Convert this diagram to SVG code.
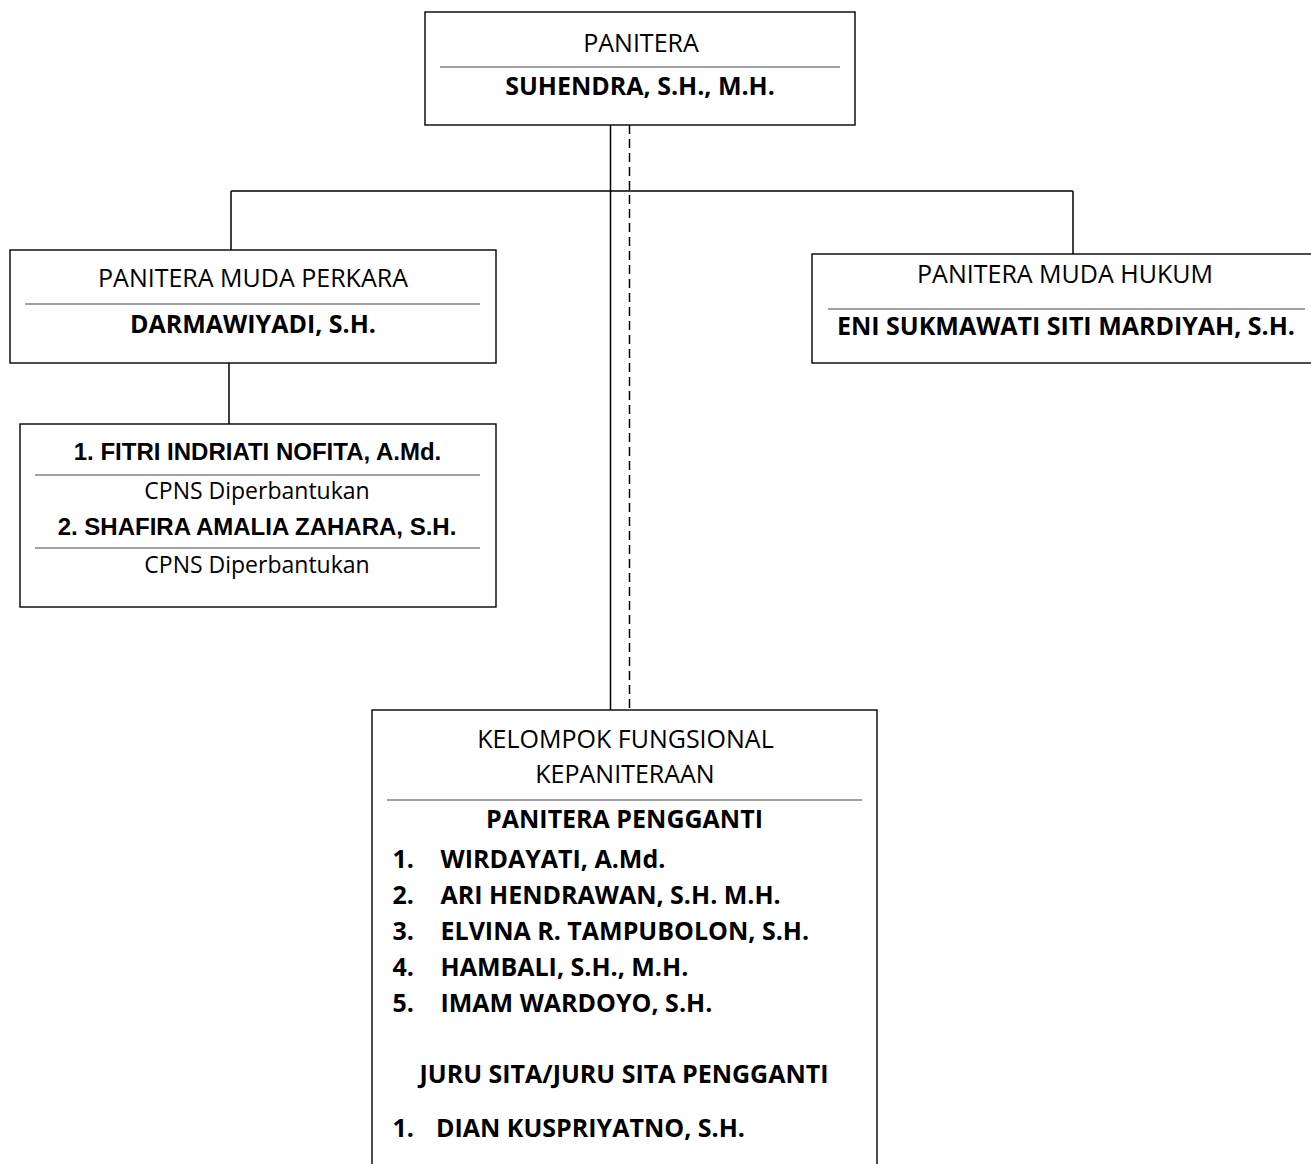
<svg xmlns="http://www.w3.org/2000/svg" width="1311" height="1164" viewBox="0 0 1311 1164">
<style>
.box{fill:#fff;stroke:#000;stroke-width:1.4}
.div{stroke:#444;stroke-width:1.2}
.con{stroke:#000;stroke-width:1.5;fill:none}
.dash{stroke:#000;stroke-width:1.5;fill:none;stroke-dasharray:9 5}
.r{font-family:"Open Sans","Liberation Sans",sans-serif;font-size:25px;fill:#000}
.b{font-family:"Open Sans","Liberation Sans",sans-serif;font-size:25px;font-weight:bold;fill:#000}
.a{font-family:"Liberation Sans",Arial,sans-serif;font-size:24px;font-weight:bold;fill:#000}
.s{font-family:"Open Sans","Liberation Sans",sans-serif;font-size:23px;fill:#000}
.c{text-anchor:middle}
</style>
<rect width="1311" height="1164" fill="#fff"/>
<g id="connectors">
<line class="con" x1="610.5" y1="125" x2="610.5" y2="710"/>
<line class="dash" x1="629.5" y1="125" x2="629.5" y2="710"/>
<line class="con" x1="231" y1="191" x2="1073" y2="191"/>
<line class="con" x1="231" y1="191" x2="231" y2="250"/>
<line class="con" x1="1073" y1="191" x2="1073" y2="254"/>
<line class="con" x1="229" y1="363" x2="229" y2="424"/>
</g>
<g id="panitera">
<rect class="box" x="425" y="12" width="430" height="113"/>
<line class="div" x1="440" y1="67" x2="840" y2="67"/>
<text class="r c" x="641" y="52">PANITERA</text>
<text class="b c" x="640" y="95">SUHENDRA, S.H., M.H.</text>
</g>
<g id="pm-perkara">
<rect class="box" x="10" y="250" width="486" height="113"/>
<line class="div" x1="25" y1="304" x2="480" y2="304"/>
<text class="r c" x="253" y="287">PANITERA MUDA PERKARA</text>
<text class="b c" x="253" y="333">DARMAWIYADI, S.H.</text>
</g>
<g id="cpns">
<rect class="box" x="20" y="424" width="476" height="183"/>
<line class="div" x1="35" y1="475" x2="480" y2="475"/>
<line class="div" x1="35" y1="548" x2="480" y2="548"/>
<text class="a c" x="257.5" y="460">1. FITRI INDRIATI NOFITA, A.Md.</text>
<text class="s c" x="257" y="499">CPNS Diperbantukan</text>
<text class="a c" x="257" y="535">2. SHAFIRA AMALIA ZAHARA, S.H.</text>
<text class="s c" x="257" y="573">CPNS Diperbantukan</text>
</g>
<g id="pm-hukum">
<rect class="box" x="812" y="254" width="510" height="109"/>
<line class="div" x1="828" y1="309" x2="1305" y2="309"/>
<text class="r c" x="1065" y="283">PANITERA MUDA HUKUM</text>
<text class="b c" x="1066" y="335">ENI SUKMAWATI SITI MARDIYAH, S.H.</text>
</g>
<g id="kelompok">
<rect class="box" x="372" y="710" width="505" height="470"/>
<line class="div" x1="387" y1="800" x2="862" y2="800"/>
<text class="r c" x="625.5" y="748">KELOMPOK FUNGSIONAL</text>
<text class="r c" x="625" y="783">KEPANITERAAN</text>
<text class="b c" x="624.5" y="828">PANITERA PENGGANTI</text>
<text class="b" x="392.5" y="868">1.</text><text class="b" x="440.5" y="868">WIRDAYATI, A.Md.</text>
<text class="b" x="392.5" y="904">2.</text><text class="b" x="440.5" y="904">ARI HENDRAWAN, S.H. M.H.</text>
<text class="b" x="392.5" y="940">3.</text><text class="b" x="440.5" y="940">ELVINA R. TAMPUBOLON, S.H.</text>
<text class="b" x="392.5" y="976">4.</text><text class="b" x="440.5" y="976">HAMBALI, S.H., M.H.</text>
<text class="b" x="392.5" y="1012">5.</text><text class="b" x="440.5" y="1012">IMAM WARDOYO, S.H.</text>
<text class="b c" x="624" y="1083">JURU SITA/JURU SITA PENGGANTI</text>
<text class="b" x="392.5" y="1137">1.</text><text class="b" x="436" y="1137">DIAN KUSPRIYATNO, S.H.</text>
</g>
</svg>
